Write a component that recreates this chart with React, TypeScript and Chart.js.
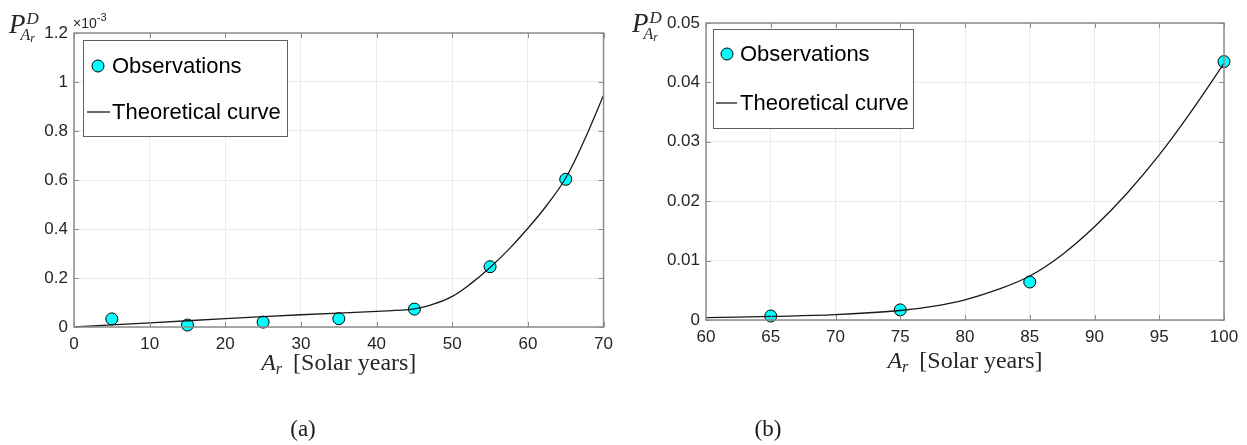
import React, { useEffect, useRef } from "react";
import { Chart, registerables } from "chart.js";
Chart.register(...registerables);

// ---------- Panel (a) ----------
const obsAgeA = [5, 15, 25, 35, 45, 55, 65];
const obsProbA = [0.033, 0.008, 0.02, 0.034, 0.073, 0.246, 0.603]; // in units of 10^-3
const curveAgeA = [0, 10, 20, 30, 40, 45, 47.5, 50, 52.5, 55, 57.5, 60, 62.5, 65, 67.5, 70];
const curveProbA = [0, 0.017, 0.034, 0.05, 0.064, 0.074, 0.093, 0.125, 0.178, 0.243, 0.318, 0.403, 0.497, 0.608, 0.765, 0.946];
const xTicksA = [0, 10, 20, 30, 40, 50, 60, 70];
const yTicksA = [0, 0.2, 0.4, 0.6, 0.8, 1, 1.2];

// ---------- Panel (b) ----------
const obsAgeB = [65, 75, 85, 100];
const obsProbB = [0.00067, 0.0017, 0.0064, 0.0435];
const curveAgeB = [60, 65, 70, 75, 77.5, 80, 82.5, 85, 87.5, 90, 92.5, 95, 97.5, 100];
const curveProbB = [0.0004, 0.0006, 0.0009, 0.0016, 0.0023, 0.0034, 0.0051, 0.0074, 0.011, 0.0157, 0.0213, 0.0278, 0.0352, 0.0432];
const xTicksB = [60, 65, 70, 75, 80, 85, 90, 95, 100];
const yTicksB = [0, 0.01, 0.02, 0.03, 0.04, 0.05];

const legendLabels = ["Observations", "Theoretical curve"];
const xTitleParts = ["A", "r", "[Solar years]"];
const yTitleParts = ["P", "D", "A", "r"];
const captions = ["(a)", "(b)"];

const SANS = "'Liberation Sans', Arial, Helvetica, sans-serif";
const SERIF = "'Liberation Serif', 'Times New Roman', serif";
const FRAME = "#8c8c8c";

type Panel = {
  obsX: number[];
  obsY: number[];
  curveX: number[];
  curveY: number[];
  xTicks: number[];
  yTicks: number[];
  decimals: number;
  left: number;
  width: number;
  height: number;
  yAxisWidth: number;
  padTop: number;
  padRight: number;
  xAxisHeight: number;
  legend: { x: number; y: number; w: number; h: number; mx: number; my: number; tx: number; lx1: number; lx2: number; ly: number };
  yTitle: { x: number; y: number };
  exponent: { x: number; y: number } | null;
  xTitleBaseline: number;
  caption: string;
  captionX: number;
};

const panels: Panel[] = [
  {
    obsX: obsAgeA, obsY: obsProbA, curveX: curveAgeA, curveY: curveProbA,
    xTicks: xTicksA, yTicks: yTicksA, decimals: 1,
    left: 0, width: 620, height: 445,
    yAxisWidth: 74, padTop: 33, padRight: 14, xAxisHeight: 445 - 327,
    legend: { x: 83, y: 40, w: 204, h: 96, mx: 98, my: 66, tx: 112, lx1: 87, lx2: 110, ly: 112 },
    yTitle: { x: 9, y: 33 },
    exponent: { x: 73, y: 28 },
    xTitleBaseline: 370,
    caption: captions[0], captionX: 303,
  },
  {
    obsX: obsAgeB, obsY: obsProbB, curveX: curveAgeB, curveY: curveProbB,
    xTicks: xTicksB, yTicks: yTicksB, decimals: 2,
    left: 620, width: 627, height: 445,
    yAxisWidth: 86, padTop: 23, padRight: 23, xAxisHeight: 445 - 320,
    legend: { x: 93, y: 29, w: 200, h: 99, mx: 107, my: 54, tx: 120, lx1: 96, lx2: 117, ly: 103 },
    yTitle: { x: 12, y: 32 },
    exponent: null,
    xTitleBaseline: 368,
    caption: captions[1], captionX: 148,
  },
];

function decorPlugin(p: Panel) {
  return {
    id: "decor",
    afterDraw(chart: any) {
      const ctx: CanvasRenderingContext2D = chart.ctx;
      const a = chart.chartArea;
      const xs = chart.scales.x;
      const ys = chart.scales.y;
      ctx.save();

      // legend
      const L = p.legend;
      ctx.fillStyle = "#ffffff";
      ctx.fillRect(L.x, L.y, L.w, L.h);
      ctx.strokeStyle = "#5e5e5e";
      ctx.lineWidth = 1;
      ctx.strokeRect(L.x + 0.5, L.y + 0.5, L.w, L.h);
      ctx.beginPath();
      ctx.arc(L.mx, L.my, 6, 0, Math.PI * 2);
      ctx.fillStyle = "#00ffff";
      ctx.fill();
      ctx.strokeStyle = "#000";
      ctx.stroke();
      ctx.beginPath();
      ctx.moveTo(L.lx1, L.ly);
      ctx.lineTo(L.lx2, L.ly);
      ctx.strokeStyle = "#1a1a1a";
      ctx.lineWidth = 1.3;
      ctx.stroke();
      ctx.fillStyle = "#000";
      ctx.font = `22px ${SANS}`;
      ctx.textBaseline = "middle";
      ctx.textAlign = "left";
      ctx.fillText(legendLabels[0], L.tx, L.my + 1);
      ctx.fillText(legendLabels[1], L.tx, L.ly + 1);

      // inner tick marks
      ctx.strokeStyle = FRAME;
      ctx.lineWidth = 1;
      const tl = 5;
      p.xTicks.forEach((v) => {
        const px = Math.round(xs.getPixelForValue(v)) + 0.5;
        ctx.beginPath();
        ctx.moveTo(px, a.bottom);
        ctx.lineTo(px, a.bottom - tl);
        ctx.moveTo(px, a.top);
        ctx.lineTo(px, a.top + tl);
        ctx.stroke();
      });
      p.yTicks.forEach((v) => {
        const py = Math.round(ys.getPixelForValue(v)) + 0.5;
        ctx.beginPath();
        ctx.moveTo(a.left, py);
        ctx.lineTo(a.left + tl, py);
        ctx.moveTo(a.right, py);
        ctx.lineTo(a.right - tl, py);
        ctx.stroke();
      });

      // frame
      ctx.lineWidth = 1.5;
      ctx.strokeStyle = FRAME;
      ctx.strokeRect(a.left, a.top, a.right - a.left, a.bottom - a.top);

      // y title  P^D_{A_r}
      const yt = p.yTitle;
      ctx.fillStyle = "#262626";
      ctx.textBaseline = "alphabetic";
      ctx.textAlign = "left";
      ctx.font = `italic 27px ${SERIF}`;
      ctx.fillText(yTitleParts[0], yt.x, yt.y);
      const pw = ctx.measureText(yTitleParts[0]).width;
      ctx.font = `italic 17px ${SERIF}`;
      ctx.fillText(yTitleParts[1], yt.x + pw + 1, yt.y - 9);
      ctx.font = `italic 16px ${SERIF}`;
      ctx.fillText(yTitleParts[2], yt.x + pw - 5, yt.y + 7);
      const aw = ctx.measureText(yTitleParts[2]).width;
      ctx.font = `italic 12px ${SERIF}`;
      ctx.fillText(yTitleParts[3], yt.x + pw - 5 + aw, yt.y + 9);

      // exponent ×10^-3
      if (p.exponent) {
        const e = p.exponent;
        ctx.font = `14px ${SANS}`;
        ctx.fillText("×10", e.x, e.y);
        const w = ctx.measureText("×10").width;
        ctx.font = `11px ${SANS}`;
        ctx.fillText("-3", e.x + w, e.y - 7);
      }

      // x title  A_r [Solar years]
      ctx.font = `italic 24px ${SERIF}`;
      const w1 = ctx.measureText(xTitleParts[0]).width;
      ctx.font = `italic 16px ${SERIF}`;
      const w2 = ctx.measureText(xTitleParts[1]).width;
      ctx.font = `24px ${SERIF}`;
      const w3 = ctx.measureText(xTitleParts[2]).width;
      const gap = 11;
      const total = w1 + w2 + gap + w3;
      const x0 = (a.left + a.right) / 2 - total / 2;
      const bl = p.xTitleBaseline;
      ctx.font = `italic 24px ${SERIF}`;
      ctx.fillText(xTitleParts[0], x0, bl);
      ctx.font = `italic 16px ${SERIF}`;
      ctx.fillText(xTitleParts[1], x0 + w1, bl + 4);
      ctx.font = `24px ${SERIF}`;
      ctx.fillText(xTitleParts[2], x0 + w1 + w2 + gap, bl);

      // caption
      ctx.font = `23px ${SERIF}`;
      ctx.textAlign = "center";
      ctx.fillStyle = "#1a1a1a";
      ctx.fillText(p.caption, p.captionX, 436);

      ctx.restore();
    },
  };
}

function PanelChart({ p }: { p: Panel }) {
  const ref = useRef<HTMLCanvasElement | null>(null);
  useEffect(() => {
    if (!ref.current) return;
    const fmt = (v: number) => String(Number(Number(v).toFixed(p.decimals)));
    const chart = new Chart(ref.current, {
      type: "scatter",
      data: {
        datasets: [
          {
            label: legendLabels[1],
            data: p.curveX.map((x, i) => ({ x, y: p.curveY[i] })),
            showLine: true,
            borderColor: "#1a1a1a",
            borderWidth: 1.3,
            pointRadius: 0,
            tension: 0.4,
            order: 0,
          } as any,
          {
            label: legendLabels[0],
            data: p.obsX.map((x, i) => ({ x, y: p.obsY[i] })),
            pointRadius: 6,
            pointBackgroundColor: "#00ffff",
            pointBorderColor: "#000000",
            pointBorderWidth: 1,
            showLine: false,
            clip: false,
            order: 1,
          } as any,
        ],
      },
      options: {
        responsive: false,
        animation: false,
        devicePixelRatio: 1,
        layout: { padding: { top: p.padTop, right: p.padRight, left: 0, bottom: 0 } },
        plugins: { legend: { display: false }, tooltip: { enabled: false } },
        scales: {
          x: {
            type: "linear",
            min: p.xTicks[0],
            max: p.xTicks[p.xTicks.length - 1],
            afterBuildTicks: (s: any) => {
              s.ticks = p.xTicks.map((value) => ({ value }));
            },
            afterFit: (s: any) => {
              s.height = p.xAxisHeight;
            },
            grid: { color: "#ebebeb", lineWidth: 1, drawTicks: false },
            border: { display: false },
            ticks: {
              padding: 7,
              color: "#262626",
              font: { family: SANS, size: 17 },
              maxRotation: 0,
              autoSkip: false,
              callback: (v: any) => String(v),
            },
          },
          y: {
            type: "linear",
            min: p.yTicks[0],
            max: p.yTicks[p.yTicks.length - 1],
            afterBuildTicks: (s: any) => {
              s.ticks = p.yTicks.map((value) => ({ value }));
            },
            afterFit: (s: any) => {
              s.width = p.yAxisWidth;
            },
            grid: { color: "#ebebeb", lineWidth: 1, drawTicks: false },
            border: { display: false },
            ticks: {
              padding: 6,
              color: "#262626",
              font: { family: SANS, size: 17 },
              autoSkip: false,
              callback: (v: any) => fmt(v),
            },
          },
        },
      } as any,
      plugins: [decorPlugin(p)],
    });
    return () => chart.destroy();
  }, [p]);
  return (
    <canvas
      ref={ref}
      width={p.width}
      height={p.height}
      style={{ position: "absolute", left: p.left, top: 0, width: p.width, height: p.height }}
    />
  );
}

export default function App() {
  return (
    <div style={{ position: "fixed", left: 0, top: 0, width: 1247, height: 445, background: "#fff", overflow: "hidden" }}>
      {panels.map((p, i) => (
        <PanelChart key={i} p={p} />
      ))}
    </div>
  );
}
